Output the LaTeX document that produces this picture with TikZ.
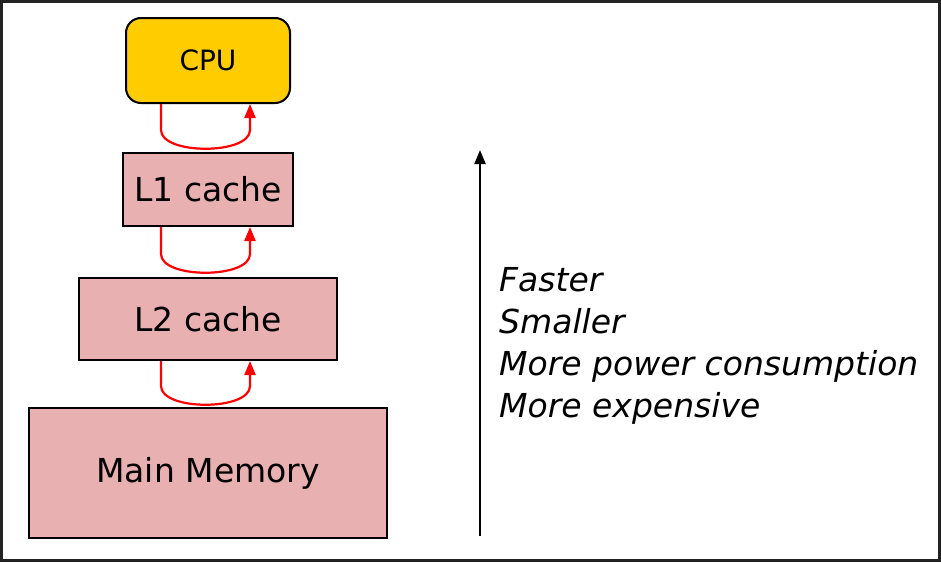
\documentclass[tikz,border=0pt]{standalone}
\usepackage{fontspec}
\setmainfont{DejaVu Sans}
\usetikzlibrary{arrows.meta}
\definecolor{cpufill}{HTML}{FFCC00}
\definecolor{cachefill}{HTML}{E8B0B0}
\definecolor{framecol}{HTML}{222222}
\tikzset{
  membox/.style={draw=black, line width=2pt, fill=cachefill, inner sep=0pt, font=\fontsize{33}{38}\selectfont},
  cpubox/.style={draw=black, line width=2pt, fill=cpufill, rounded corners=15pt, inner sep=0pt, font=\fontsize{28}{32}\selectfont},
  flow/.style={draw=red, line width=2.2pt, -{Triangle[length=14pt,width=11pt]}},
  trend/.style={draw=black, line width=2.2pt, -{Triangle[length=14pt,width=11pt]}},
  prop/.style={anchor=base west, inner sep=0pt, font=\fontsize{33}{38}\selectfont\itshape}
}
\begin{document}
\begin{tikzpicture}[x=1pt,y=-1pt]
\useasboundingbox (0,0) rectangle (941,562);
\draw[framecol, line width=3pt] (1.5,1.5) rectangle (939.5,560.5);
\node[cpubox, minimum width=164pt, minimum height=85pt] (cpu) at (208,60.5) {CPU};
\node[membox, minimum width=170pt, minimum height=73pt] (l1) at (208,189.5) {L1 cache};
\node[membox, minimum width=258pt, minimum height=82pt] (l2) at (208,319) {L2 cache};
\node[membox, minimum width=358pt, minimum height=130pt] (mm) at (208,473) {Main Memory};
% red transfer arrows
\draw[flow] ([xshift=-47pt]cpu.south) -- ++(0,26) .. controls ++(0,25) and ++(0,25) .. ++(89,0) -- ([xshift=42pt]cpu.south);
\draw[flow] ([xshift=-47pt]l1.south) -- ++(0,27) .. controls ++(0,25) and ++(0,25) .. ++(89,0) -- ([xshift=42pt]l1.south);
\draw[flow] ([xshift=-47pt]l2.south) -- ++(0,25) .. controls ++(0,25) and ++(0,25) .. ++(89,0) -- ([xshift=42pt]l2.south);
% trend arrow and labels
\coordinate (tb) at (480,536);
\coordinate (tt) at (480,150);
\draw[trend] (tb) -- (tt);
\node[prop] (p1) at (499,291) {Faster};
\node[prop] (p2) at (499,333) {Smaller};
\node[prop] (p3) at (499,375) {More power consumption};
\node[prop] (p4) at (499,417) {More expensive};
\end{tikzpicture}
\end{document}
